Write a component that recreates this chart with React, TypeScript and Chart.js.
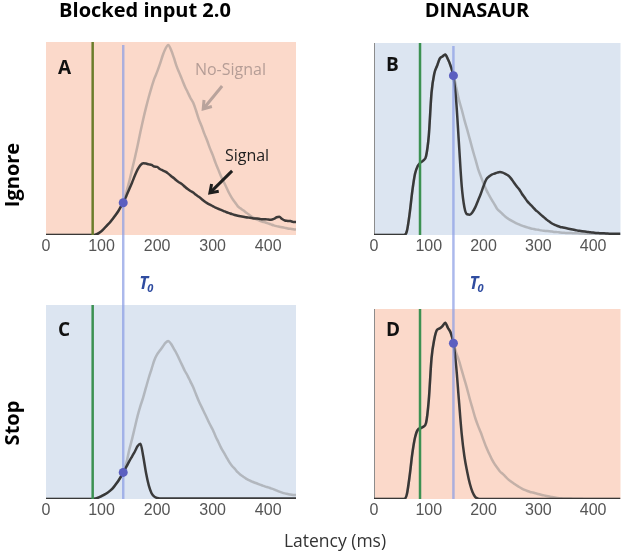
import React, { useEffect, useRef } from 'react';
import { Chart, registerables } from 'chart.js';

Chart.register(...registerables);

// Latency grid (ms)
const latency = [
  0, 5, 10, 15, 20, 25, 30, 35, 40, 45,
  50, 55, 60, 65, 70, 75, 80, 85, 90, 95,
  100, 105, 110, 115, 120, 125, 130, 135, 140, 145,
  150, 155, 160, 165, 170, 175, 180, 185, 190, 195,
  200, 205, 210, 215, 220, 225, 230, 235, 240, 245,
  250, 255, 260, 265, 270, 275, 280, 285, 290, 295,
  300, 305, 310, 315, 320, 325, 330, 335, 340, 345,
  350, 355, 360, 365, 370, 375, 380, 385, 390, 395,
  400, 405, 410, 415, 420, 425, 430, 435, 440, 445,
  450,
];

const tickValues = [0, 100, 200, 300, 400];

// Panel A (Blocked input 2.0, Ignore), % of panel height
const signalA = [
  0, 0, 0, 0, 0, 0, 0, 0, 0, 0,
  0, 0, 0, 0, 0, 0, 0, 0, 0.3, 1,
  2, 3.5, 5, 6.5, 8.3, 10.2, 12.3, 14.8, 17.2, 20.5,
  23.8, 27.2, 30.8, 34, 36.2, 37.2, 37, 36.6, 36.3, 35.5,
  35.3, 34.2, 33.5, 32.8, 31.8, 30.6, 29.5, 28.2, 27.2, 26.3,
  25, 23.8, 22.8, 22, 20.8, 19.8, 18.7, 17.5, 16.5, 15.7,
  15, 14.2, 13.6, 13, 12.4, 11.8, 11.3, 10.8, 10.4, 10,
  9.7, 9.5, 9.2, 9, 8.8, 8.6, 8.5, 8.3, 8.1, 8.2,
  8, 7.9, 8.3, 9.2, 9.4, 8.3, 7.5, 7.3, 7.2, 6.8,
  6.8,
];
const noSignalA = [
  0, 0, 0, 0, 0, 0, 0, 0, 0, 0,
  0, 0, 0, 0, 0, 0, 0, 0, 0.3, 1,
  2, 3.5, 5, 6.5, 8.3, 10.2, 12.3, 14.8, 17.5, 22.5,
  28, 34, 40, 46.5, 53.5, 60, 66, 71.5, 76.5, 81,
  84.5, 88.5, 93, 96.5, 98.5, 96, 92, 87.5, 84, 80.5,
  77, 74, 71, 68.5, 64.5, 60, 56.5, 52.5, 49, 45,
  41.5, 37.5, 34, 30.5, 27.5, 24.5, 21.5, 19, 17, 15,
  13.8, 12.8, 11.7, 10.6, 9.6, 8.8, 8, 7.4, 6.9, 6.5,
  6, 5.5, 5, 4.6, 4.3, 4, 3.7, 3.4, 3.2, 3,
  2.8,
];

// Panel B (DINASAUR, Ignore)
const signalB = [
  0, 0, 0, 0, 0, 0, 0, 0, 0, 0,
  0, 0, 2, 11, 23, 32, 36, 37.8, 38.8, 41,
  51.6, 74, 84, 88, 91.8, 93, 94, 91.5, 88, 82.5,
  70, 48, 26, 14.5, 10.8, 10.6, 12, 14.5, 18, 21.5,
  25.5, 29, 30.5, 31.5, 32, 32.5, 32.8, 32.5, 31.8, 31,
  29.5, 27.5, 25.5, 23.8, 21.5, 19.5, 17.5, 16, 14.5, 13,
  11.8, 10.5, 9.3, 8, 7, 6, 5.3, 4.7, 4.2, 3.9,
  3.6, 3.3, 3, 2.7, 2.4, 2.2, 2, 1.8, 1.6, 1.4,
  1.3, 1.1, 1, 0.9, 0.9, 0.8, 0.7, 0.7, 0.6, 0.6,
  0.6,
];
const noSignalB = [
  0, 0, 0, 0, 0, 0, 0, 0, 0, 0,
  0, 0, 2, 11, 23, 32, 36, 37.8, 38.8, 41,
  51.6, 74, 84, 88, 91.8, 93, 94, 91.5, 88, 83.5,
  77, 70.5, 65.5, 60, 55, 49.8, 44.5, 39.5, 34.5, 30.5,
  26.8, 23.5, 20.8, 18.3, 16, 13.5, 12.2, 10.8, 9.5, 8.5,
  7.6, 6.8, 6.1, 5.5, 4.9, 4.4, 4, 3.5, 3.2, 2.9,
  2.7, 2.4, 2.2, 2.1, 2, 1.8, 1.6, 1.5, 1.3, 1.2,
  1.1, 1, 1, 0.9, 0.9, 0.8, 0.8, 0.7, 0.7, 0.6,
  0.6, 0.6, 0.5, 0.5, 0.5, 0.5, 0.4, 0.4, 0.4, 0.4,
  0.4,
];

// Panel C (Blocked input 2.0, Stop)
const signalC = [
  0, 0, 0, 0, 0, 0, 0, 0, 0, 0,
  0, 0, 0, 0, 0, 0, 0, 0, 0.3, 0.8,
  1.5, 2.3, 3.1, 4.2, 5.5, 7.3, 9.3, 11.6, 14.2, 16.8,
  19.5, 22, 24.5, 27.3, 28.5, 22, 13.5, 7, 3, 1.2,
  0.5, 0.3, 0.3, 0.3, 0.3, 0.3, 0.3, 0.3, 0.3, 0.3,
  0.3, 0.3, 0.3, 0.3, 0.3, 0.3, 0.3, 0.3, 0.3, 0.3,
  0.3, 0.3, 0.3, 0.3, 0.3, 0.3, 0.3, 0.3, 0.3, 0.3,
  0.3, 0.3, 0.3, 0.3, 0.3, 0.3, 0.3, 0.3, 0.3, 0.3,
  0.3, 0.3, 0.3, 0.3, 0.3, 0.3, 0.3, 0.3, 0.3, 0.3,
  0.3,
];
const noSignalC = [
  0, 0, 0, 0, 0, 0, 0, 0, 0, 0,
  0, 0, 0, 0, 0, 0, 0, 0, 0.3, 0.8,
  1.5, 2.3, 3.1, 4.2, 5.5, 7.3, 9.3, 11.6, 14.5, 19,
  25.5, 31, 37, 43, 48, 52.4, 57.5, 62.5, 67, 71.5,
  74.5, 76.5, 78.5, 80.5, 81.5, 80, 77.5, 75, 72, 69,
  66, 63.5, 60.5, 57.6, 54, 50.5, 47.5, 44.5, 41.5, 38.5,
  35.8, 32.5, 29.5, 26.5, 24, 21.5, 19, 17, 15.5, 13.8,
  12.5, 11.5, 10.5, 9.7, 9.1, 8.5, 8, 7.4, 6.9, 6.4,
  6, 5.5, 5, 4.4, 3.8, 3.3, 2.9, 2.6, 2.3, 2.1,
  2,
];

// Panel D (DINASAUR, Stop)
const signalD = [
  0, 0, 0, 0, 0, 0, 0, 0, 0, 0,
  0, 0, 2.5, 12, 24, 32.5, 36.5, 37.2, 38, 40,
  52, 74, 84, 89, 89.8, 91, 92.8, 90, 87.5, 82,
  70, 52, 34.6, 22.5, 14.5, 8, 3.5, 1, 0.2, 0,
  0, 0, 0, 0, 0, 0, 0, 0, 0, 0,
  0, 0, 0, 0, 0, 0, 0, 0, 0, 0,
  0, 0, 0, 0, 0, 0, 0, 0, 0, 0,
  0, 0, 0, 0, 0, 0, 0, 0, 0, 0,
  0, 0, 0, 0, 0, 0, 0, 0, 0, 0,
  0,
];
const noSignalD = [
  0, 0, 0, 0, 0, 0, 0, 0, 0, 0,
  0, 0, 2.5, 12, 24, 32.5, 36.5, 37.2, 38, 40,
  52, 74, 84, 89, 89.8, 91, 92.8, 90, 87.5, 82.5,
  77, 73, 68, 63, 58, 52.5, 47.5, 42.5, 38.5, 35,
  31, 27.2, 24, 21, 18.5, 16.5, 14.5, 13.2, 11.8, 10.3,
  9.2, 8.2, 7.2, 6.3, 5.5, 4.8, 4.2, 3.7, 3.4, 3,
  2.6, 2.2, 1.9, 1.6, 1.3, 1, 0.8, 0.5, 0.4, 0.3,
  0.2, 0.2, 0.2, 0.1, 0.1, 0.1, 0.1, 0, 0, 0,
  0, 0, 0, 0, 0, 0, 0, 0, 0, 0,
  0,
];

// T0 (ms) per column, green onset (ms), dot heights per panel A,B,C,D
const t0Values = [139, 145];
const onsetValue = 84;
const dotValues = [16.7, 83, 13.7, 82];

const PINK = '#fbd9ca';
const BLUE = '#dce5f1';

type PanelDef = {
  key: string;
  left: number;
  top: number;
  w: number;
  h: number;
  pad: { left: number; right: number; top: number; bottom: number };
  bg: string;
  signal: number[];
  noSignal: number[];
  t0: number;
  dotY: number;
  greenColor: string;
  leftAxis: boolean;
  row: 'top' | 'bottom';
  letterY: number;
  annotate: boolean;
};

const panels: PanelDef[] = [
  { key: 'A', left: 0, top: 0, w: 312, h: 276, pad: { left: 46, right: 16, top: 42, bottom: 11 }, bg: PINK, signal: signalA, noSignal: noSignalA, t0: t0Values[0], dotY: dotValues[0], greenColor: '#6b7d2b', leftAxis: false, row: 'top', letterY: 74, annotate: true },
  { key: 'B', left: 312, top: 0, w: 313, h: 276, pad: { left: 62, right: 1, top: 43, bottom: 11 }, bg: BLUE, signal: signalB, noSignal: noSignalB, t0: t0Values[1], dotY: dotValues[1], greenColor: '#3c9152', leftAxis: true, row: 'top', letterY: 71, annotate: false },
  { key: 'C', left: 0, top: 276, w: 312, h: 276, pad: { left: 46, right: 16, top: 29, bottom: 23 }, bg: BLUE, signal: signalC, noSignal: noSignalC, t0: t0Values[0], dotY: dotValues[2], greenColor: '#3c9152', leftAxis: false, row: 'bottom', letterY: 60, annotate: false },
  { key: 'D', left: 312, top: 276, w: 313, h: 276, pad: { left: 62, right: 1, top: 33, bottom: 23 }, bg: PINK, signal: signalD, noSignal: noSignalD, t0: t0Values[1], dotY: dotValues[3], greenColor: '#3c9152', leftAxis: true, row: 'bottom', letterY: 60, annotate: false },
];

function drawArrow(ctx: CanvasRenderingContext2D, x1: number, y1: number, x2: number, y2: number, color: string) {
  ctx.save();
  ctx.strokeStyle = color;
  ctx.lineWidth = 3;
  ctx.lineCap = 'butt';
  ctx.beginPath();
  ctx.moveTo(x1, y1);
  ctx.lineTo(x2, y2);
  ctx.stroke();
  const ang = Math.atan2(y2 - y1, x2 - x1);
  const len = 9;
  ctx.beginPath();
  ctx.moveTo(x2 - len * Math.cos(ang - 0.6), y2 - len * Math.sin(ang - 0.6));
  ctx.lineTo(x2, y2);
  ctx.lineTo(x2 - len * Math.cos(ang + 0.6), y2 - len * Math.sin(ang + 0.6));
  ctx.stroke();
  ctx.restore();
}

const decoPlugin = {
  id: 'deco',
  beforeDatasetsDraw(chart: any, _args: any, opts: any) {
    const { ctx, chartArea: a } = chart;
    ctx.save();
    ctx.fillStyle = opts.bg;
    ctx.fillRect(a.left, a.top, a.right - a.left, a.bottom - a.top);
    if (opts.leftAxis) {
      ctx.strokeStyle = '#8c8c8c';
      ctx.lineWidth = 1;
      ctx.beginPath();
      ctx.moveTo(a.left + 0.5, a.top);
      ctx.lineTo(a.left + 0.5, a.bottom);
      ctx.stroke();
    }
    ctx.fillStyle = '#111';
    ctx.font = 'bold 19px "Open Sans"';
    ctx.textBaseline = 'alphabetic';
    ctx.textAlign = 'left';
    ctx.fillText(opts.letter, a.left + 12, opts.letterY);
    ctx.restore();
  },
  afterDatasetDraw(chart: any, args: any, opts: any) {
    if (args.index !== 1) return;
    const { ctx, chartArea: a, scales } = chart;
    const xs = scales.x;
    ctx.save();
    const gx = xs.getPixelForValue(opts.onset);
    ctx.strokeStyle = opts.greenColor;
    ctx.lineWidth = 2.5;
    ctx.beginPath();
    ctx.moveTo(gx, a.top);
    ctx.lineTo(gx, a.bottom);
    ctx.stroke();
    const tx = xs.getPixelForValue(opts.t0);
    ctx.strokeStyle = 'rgba(140,158,228,0.72)';
    ctx.lineWidth = 2.5;
    ctx.beginPath();
    if (opts.row === 'top') {
      ctx.moveTo(tx, a.top + 3);
      ctx.lineTo(tx, chart.height);
    } else {
      ctx.moveTo(tx, 0);
      ctx.lineTo(tx, a.bottom);
    }
    ctx.stroke();
    ctx.restore();
  },
  afterDraw(chart: any, _args: any, opts: any) {
    const { ctx, scales } = chart;
    const xs = scales.x;
    const ys = scales.y;
    ctx.save();
    if (opts.row === 'bottom') {
      const tx = xs.getPixelForValue(opts.t0) + 16;
      ctx.fillStyle = '#2f4ca0';
      ctx.textBaseline = 'alphabetic';
      ctx.textAlign = 'left';
      ctx.font = 'italic bold 17px "Open Sans"';
      ctx.fillText('T', tx, 13);
      const tw = ctx.measureText('T').width;
      ctx.font = 'italic bold 11px "Open Sans"';
      ctx.fillText('0', tx + tw - 1, 16);
    }
    if (opts.annotate) {
      ctx.font = '16px "Open Sans"';
      ctx.textBaseline = 'middle';
      ctx.textAlign = 'left';
      ctx.fillStyle = '#b59d96';
      ctx.fillText('No-Signal', xs.getPixelForValue(268), ys.getPixelForValue(85.5));
      drawArrow(ctx, xs.getPixelForValue(317), ys.getPixelForValue(77.2), xs.getPixelForValue(283), ys.getPixelForValue(65.3), '#b9a39c');
      ctx.fillStyle = '#1e1e1e';
      ctx.fillText('Signal', xs.getPixelForValue(322), ys.getPixelForValue(40.9));
      drawArrow(ctx, xs.getPixelForValue(335), ys.getPixelForValue(33.2), xs.getPixelForValue(295), ys.getPixelForValue(21.8), '#1e1e1e');
    }
    ctx.restore();
  },
};

function Panel({ p }: { p: PanelDef }) {
  const ref = useRef<HTMLCanvasElement | null>(null);
  useEffect(() => {
    if (!ref.current) return;
    const chart = new Chart(ref.current, {
      type: 'line',
      data: {
        datasets: [
          {
            data: [{ x: p.t0, y: p.dotY }],
            showLine: false,
            pointRadius: 4.5,
            pointBackgroundColor: '#5b5fc0',
            pointBorderWidth: 0,
            order: -1,
          },
          {
            data: latency.map((x, i) => ({ x, y: p.signal[i] })),
            borderColor: 'rgba(45,45,45,0.92)',
            borderWidth: 2.5,
            pointRadius: 0,
            fill: false,
            cubicInterpolationMode: 'monotone',
            order: 0,
          },
          {
            data: latency.map((x, i) => ({ x, y: p.noSignal[i] })),
            borderColor: 'rgba(120,120,120,0.42)',
            borderWidth: 2.5,
            pointRadius: 0,
            fill: false,
            cubicInterpolationMode: 'monotone',
            order: 1,
          },
        ],
      } as any,
      options: {
        animation: false,
        responsive: false,
        maintainAspectRatio: false,
        events: [],
        layout: { padding: p.pad },
        plugins: {
          legend: { display: false },
          tooltip: { enabled: false },
          title: { display: false },
          deco: {
            bg: p.bg,
            leftAxis: p.leftAxis,
            letter: p.key,
            letterY: p.letterY,
            onset: onsetValue,
            t0: p.t0,
            greenColor: p.greenColor,
            row: p.row,
            annotate: p.annotate,
          },
        } as any,
        scales: {
          x: {
            type: 'linear',
            min: 0,
            max: 450,
            grid: { display: false, drawTicks: false },
            border: { display: false },
            afterBuildTicks: (s: any) => {
              s.ticks = tickValues.map((v) => ({ value: v }));
            },
            afterFit: (s: any) => {
              s.height = 30;
            },
            ticks: {
              padding: 2,
              color: '#555',
              maxRotation: 0,
              autoSkip: false,
              font: { family: '"Liberation Sans", Arial, sans-serif', size: 16 },
            },
          },
          y: { display: false, min: 0, max: 100 },
        },
      } as any,
      plugins: [decoPlugin as any],
    });
    return () => chart.destroy();
  }, [p]);
  return (
    <canvas
      ref={ref}
      width={p.w}
      height={p.h}
      style={{ position: 'absolute', left: p.left, top: p.top, width: p.w, height: p.h }}
    />
  );
}

function Label({ text, x, y, rotate = 0, style }: { text: string; x: number; y: number; rotate?: number; style: React.CSSProperties }) {
  return (
    <div
      style={{
        position: 'absolute',
        left: x,
        top: y,
        transform: `translate(-50%, -50%) rotate(${rotate}deg)`,
        whiteSpace: 'nowrap',
        fontFamily: '"Open Sans", sans-serif',
        lineHeight: 1,
        ...style,
      }}
    >
      {text}
    </div>
  );
}

export default function App() {
  const bold = { fontWeight: 700, fontSize: 20, color: '#000' };
  return (
    <div style={{ position: 'absolute', left: 0, top: 0, width: 625, height: 552, background: '#fff', overflow: 'hidden' }}>
      {panels.map((p) => (
        <Panel key={p.key} p={p} />
      ))}
      <Label text="Blocked input 2.0" x={145} y={10} style={bold} />
      <Label text="DINASAUR" x={477} y={10} style={bold} />
      <Label text="Ignore" x={12} y={175} rotate={-90} style={bold} />
      <Label text="Stop" x={12} y={423} rotate={-90} style={bold} />
      <Label text="Latency (ms)" x={335} y={541} style={{ fontSize: 17.5, color: '#333' }} />
    </div>
  );
}
